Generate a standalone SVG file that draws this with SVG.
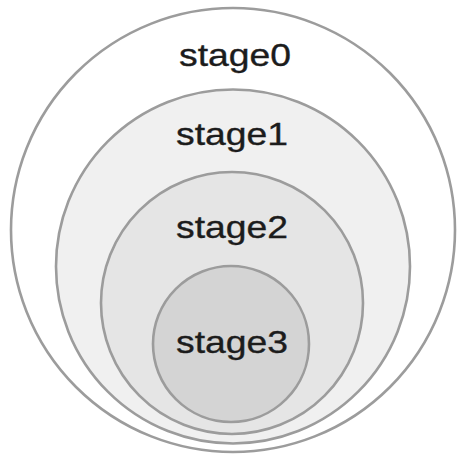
<svg xmlns="http://www.w3.org/2000/svg" width="467" height="458" viewBox="0 0 467 458">
<style>
.ring{stroke:#9c9c9c;stroke-width:2.6}
.lbl{font-family:"Liberation Sans",Arial,sans-serif;font-size:32px;fill:#1c1c1c;stroke:#1c1c1c;stroke-width:0.35;text-anchor:middle}
</style>
<rect width="467" height="458" fill="#ffffff"/>
<g id="stage0">
<circle class="ring" cx="233" cy="230" r="222" fill="#ffffff"/>
<text class="lbl" x="235" y="66" textLength="112" lengthAdjust="spacingAndGlyphs">stage0</text>
</g>
<g id="stage1">
<circle class="ring" cx="233" cy="266.5" r="177" fill="#f0f0f0"/>
<text class="lbl" x="232" y="145" textLength="112" lengthAdjust="spacingAndGlyphs">stage1</text>
</g>
<g id="stage2">
<circle class="ring" cx="232" cy="303" r="131" fill="#e5e5e5"/>
<text class="lbl" x="232" y="238" textLength="112" lengthAdjust="spacingAndGlyphs">stage2</text>
</g>
<g id="stage3">
<circle class="ring" cx="231" cy="344" r="78" fill="#d4d4d4"/>
<text class="lbl" x="232" y="353" textLength="112" lengthAdjust="spacingAndGlyphs">stage3</text>
</g>
<g id="connectors"/>
</svg>
